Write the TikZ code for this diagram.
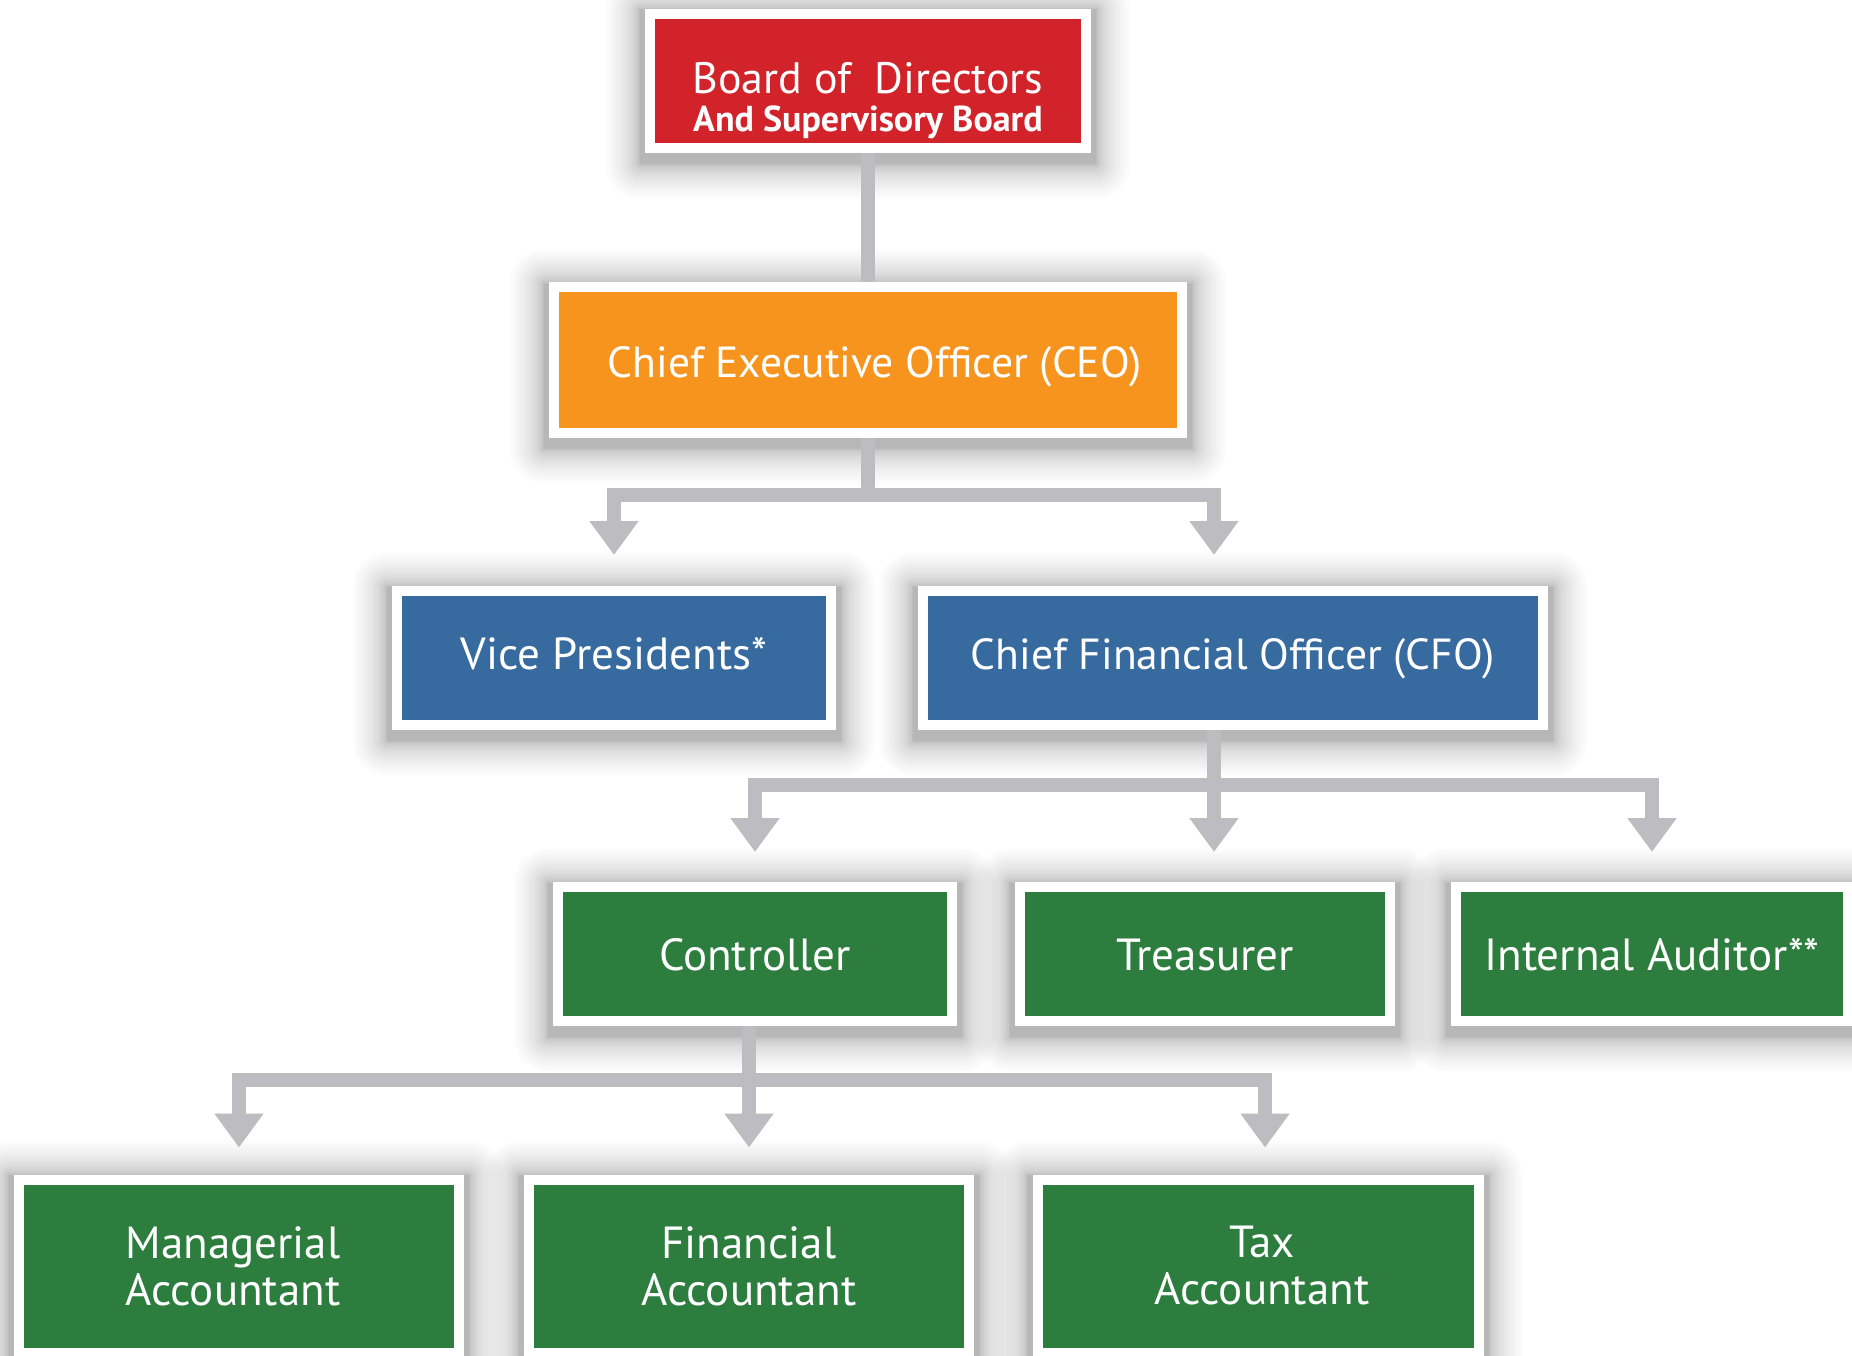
\documentclass[tikz,border=0pt]{standalone}
\usepackage{fontspec}
\setmainfont{PT Sans}
\usetikzlibrary{arrows.meta,backgrounds,calc}
\definecolor{cred}{HTML}{D2232A}
\definecolor{corange}{HTML}{F7941E}
\definecolor{cblue}{HTML}{376A9E}
\definecolor{cgreen}{HTML}{2C7D3E}
\definecolor{cline}{HTML}{BCBCC1}
\begin{document}
\begin{tikzpicture}[x=1pt,y=-1pt,
  box/.style={draw=white, line width=10pt, text=white, inner sep=0pt, align=center,
    font=\fontsize{45}{47}\selectfont, minimum height=134pt},
  oneline/.style={text height=33pt, text depth=10pt},
  lowline/.style={text height=38pt, text depth=6pt},
  narrowfont/.style={font=\fontsize{43.5}{47}\selectfont},
  tall/.style={minimum height=173pt},
  txt/.style={text=white, inner sep=0pt, align=center},
  conn/.style={draw=cline, line width=14pt, line join=miter},
  arr/.style={conn, -{Triangle[width=47pt,length=34pt]}, shorten >=#1}]
\useasboundingbox (0,0) rectangle (1852,1356);

% nodes
\node[box, fill=cred, minimum width=436pt] (board) at (868,81) {};
\node[txt, font=\fontsize{44}{38}\selectfont] (boardtext) at (868,101)
  {Board of~ Directors\\\bfseries\fontsize{36}{38}\selectfont And Supervisory Board};
\node[box, fill=corange, minimum width=628pt, minimum height=145pt, narrowfont,
  text height=40pt, text depth=5pt] (ceo) at (868,360) {\hspace*{14pt}Chief Executive Officer (CEO)};
\node[box, oneline, fill=cblue, minimum width=434pt] (vp) at (614,658) {Vice Presidents*};
\node[box, oneline, fill=cblue, minimum width=620pt, narrowfont] (cfo) at (1233,658) {Chief Financial Officer (CFO)};
\node[box, lowline, fill=cgreen, minimum width=394pt] (ctrl) at (755,954) {Controller};
\node[box, lowline, fill=cgreen, minimum width=370pt] (treas) at (1205,954) {Treasurer};
\node[box, lowline, fill=cgreen, minimum width=392pt] (aud) at (1652,954) {Internal Auditor**};
\node[box, tall, fill=cgreen, minimum width=440pt] (man) at (239,1266) {Managerial\hspace*{12pt}\\Accountant\hspace*{12pt}};
\node[box, tall, fill=cgreen, minimum width=440pt] (fin) at (749,1266) {Financial\\Accountant};
\node[box, tall, fill=cgreen, minimum width=441pt] (tax) at (1258,1266) {\hspace*{8pt}Tax\\\hspace*{8pt}Accountant};

\coordinate (j1) at (868,495);
\coordinate (a1) at (1214,0);
\coordinate (j2) at (1214,785);
\coordinate (a2) at (749,0);
\coordinate (j3) at (749,1080);
\coordinate (a3) at (1265,0);

\begin{scope}[on background layer]
  \fill[white] (0,0) rectangle (1852,1356);
  \foreach \n in {board,ceo,vp,cfo,ctrl,treas,aud,man,fin,tax}{
    \foreach \i [evaluate=\i as \e using 0.06*\i*\i] in {1,...,24}{
      \fill[black, opacity=0.013, rounded corners=\e pt]
        ($(\n.north west)+(-5-\e,-5-\e+6)$) rectangle ($(\n.south east)+(5+\e,5+\e+6)$);
    }
  }
  % connectors
  \draw[conn] (board.south) -- (ceo.north);
  \draw[conn] (ceo.south) -- (j1);
  \draw[arr=31pt] (j1) -| (vp.north);
  \draw[arr=31pt] (j1) -| (a1 |- cfo.north);
  \draw[conn] (a1 |- cfo.south) -- (j2);
  \draw[arr=30pt] (j2) -| (ctrl.north);
  \draw[arr=30pt] (j2) -- (j2 |- treas.north);
  \draw[arr=30pt] (j2) -| (aud.north);
  \draw[conn] (a2 |- ctrl.south) -- (j3);
  \draw[arr=27pt] (j3) -| (man.north);
  \draw[arr=27pt] (j3) -- (fin.north);
  \draw[arr=27pt] (j3) -| (a3 |- tax.north);
\end{scope}
\end{tikzpicture}
\end{document}
